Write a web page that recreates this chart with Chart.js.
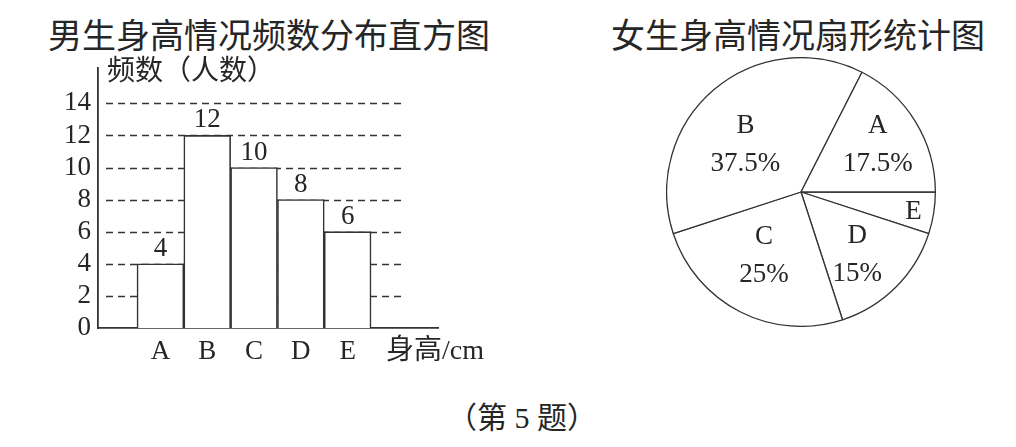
<!DOCTYPE html>
<html>
<head>
<meta charset="utf-8">
<script src="https://cdn.jsdelivr.net/npm/chart.js@4.4.1/dist/chart.umd.min.js"></script>
<style>
  html, body { margin:0; padding:0; background:#fff; }
  body { width:1016px; height:447px; position:relative; overflow:hidden;
         font-family:'Liberation Serif','Noto Sans CJK SC',serif; color:#262626; }
  .txt { position:absolute; white-space:nowrap; }
  #t1 { left:48px; top:17px; font-size:34px; line-height:40px; }
  #t2 { left:611px; top:17px; font-size:34px; line-height:40px; }
  #cap { left:422px; width:200px; text-align:center; top:400px; font-size:30px; line-height:36px; }
  #barBox { position:absolute; left:0; top:0; width:520px; height:380px; }
  #pieBox { position:absolute; left:666px; top:57px; width:270px; height:270px; }
</style>
</head>
<body>
<div class="txt" id="t1">男生身高情况频数分布直方图</div>
<div class="txt" id="t2">女生身高情况扇形统计图</div>
<div class="txt" id="cap">（第 5 题）</div>
<div id="barBox"><canvas id="bar"></canvas></div>
<div id="pieBox"><canvas id="pie"></canvas></div>
<script>
// ---- data ----
const categories = ['A', 'B', 'C', 'D', 'E'];
const boysCount = [4, 12, 10, 8, 6];
const girlsPercent = [17.5, 37.5, 25, 15, 5];
const yTickValues = [0, 2, 4, 6, 8, 10, 12, 14];
const yAxisTitle = '频数（人数）';
const xAxisTitle = '身高/cm';

const FONT = "'Liberation Serif','Noto Sans CJK SC',serif";
const INK = '#262626';
const LINE = '#333';

// ---- bar chart (histogram) ----
const barPoints = categories.map((c, i) => ({ x: i + 1, y: boysCount[i] }));

const barDecor = {
  id: 'barDecor',
  beforeDatasetsDraw(chart) {
    const { ctx, chartArea, scales } = chart;
    ctx.save();
    ctx.strokeStyle = LINE;
    ctx.lineWidth = 1.3;
    ctx.setLineDash([7, 5]);
    yTickValues.forEach(v => {
      if (v === 0) return;
      const y = Math.round(scales.y.getPixelForValue(v)) + 0.5;
      ctx.beginPath();
      ctx.moveTo(chartArea.left + 8, y);
      ctx.lineTo(chartArea.right - 36, y);
      ctx.stroke();
    });
    ctx.restore();
  },
  afterDatasetsDraw(chart) {
    const { ctx, chartArea } = chart;
    const meta = chart.getDatasetMeta(0);
    ctx.save();
    ctx.fillStyle = INK;
    ctx.font = '27px ' + FONT;
    ctx.textAlign = 'center';
    ctx.textBaseline = 'alphabetic';
    meta.data.forEach((bar, i) => {
      ctx.fillText(String(boysCount[i]), bar.x, bar.y - 8);
    });
    ctx.textAlign = 'left';
    ctx.textBaseline = 'middle';
    ctx.font = '28px ' + FONT;
    ctx.fillText(yAxisTitle, chartArea.left + 9, chartArea.top + 5);
    ctx.fillText(xAxisTitle, chartArea.right - 52, chartArea.bottom + 24);
    ctx.restore();
  }
};

new Chart(document.getElementById('bar'), {
  type: 'bar',
  data: {
    datasets: [{
      data: barPoints,
      backgroundColor: '#ffffff',
      borderColor: LINE,
      borderWidth: 1.6,
      barPercentage: 1,
      categoryPercentage: 1
    }]
  },
  options: {
    responsive: true,
    maintainAspectRatio: false,
    animation: false,
    layout: { padding: { left: 0, right: 82, top: 68, bottom: 0 } },
    plugins: { legend: { display: false }, tooltip: { enabled: false } },
    scales: {
      x: {
        type: 'linear',
        offset: false,
        min: -0.333,
        max: 6.93,
        grid: { display: false, drawTicks: false, offset: false },
        border: { display: true, color: LINE, width: 1.8 },
        afterBuildTicks(scale) { scale.ticks = categories.map((c, i) => ({ value: i + 1 })); },
        afterFit(scale) { scale.height = 52; },
        ticks: {
          autoSkip: false,
          maxRotation: 0,
          padding: 8,
          color: INK,
          font: { family: FONT, size: 27 },
          callback: (v) => categories[Math.round(v) - 1] || ''
        }
      },
      y: {
        type: 'linear',
        min: 0,
        max: 16.2,
        grid: { display: false, drawTicks: false },
        border: { display: true, color: LINE, width: 1.8 },
        afterBuildTicks(scale) { scale.ticks = yTickValues.map(v => ({ value: v })); },
        afterFit(scale) { scale.width = 98; },
        ticks: {
          padding: 7,
          color: INK,
          font: { family: FONT, size: 27 }
        }
      }
    }
  },
  plugins: [barDecor]
});

// ---- pie chart ----
// Chart.js draws clockwise; the reference runs A,B,C,D,E counter-clockwise from 3 o'clock.
const pieLabels = categories.slice().reverse();
const pieValues = girlsPercent.slice().reverse();
const labelPlacement = {
  A: { r: 0.67, da: 0 },
  B: { r: 0.54, da: -9.5 },
  C: { r: 0.55, da: 3 },
  D: { r: 0.63, da: 3.4 },
  E: { r: 0.85, da: 1, nameOnly: true }
};

const pieText = {
  id: 'pieText',
  afterDatasetsDraw(chart) {
    const { ctx } = chart;
    const meta = chart.getDatasetMeta(0);
    ctx.save();
    ctx.fillStyle = INK;
    ctx.font = '27px ' + FONT;
    ctx.textAlign = 'center';
    ctx.textBaseline = 'middle';
    meta.data.forEach((arc, i) => {
      const name = pieLabels[i];
      const p = labelPlacement[name];
      const a = (arc.startAngle + arc.endAngle) / 2 + p.da * Math.PI / 180;
      const r = arc.outerRadius * p.r;
      const cx = arc.x + Math.cos(a) * r;
      const cy = arc.y + Math.sin(a) * r;
      if (p.nameOnly) {
        ctx.fillText(name, cx, cy);
      } else {
        ctx.fillText(name, cx, cy - 19);
        ctx.fillText(pieValues[i] + '%', cx, cy + 19);
      }
    });
    ctx.restore();
  }
};

new Chart(document.getElementById('pie'), {
  type: 'pie',
  data: {
    labels: pieLabels,
    datasets: [{
      data: pieValues,
      backgroundColor: '#ffffff',
      borderColor: LINE,
      borderWidth: 1.3
    }]
  },
  options: {
    responsive: true,
    maintainAspectRatio: false,
    animation: false,
    rotation: 90,
    layout: { padding: 0 },
    plugins: { legend: { display: false }, tooltip: { enabled: false } }
  },
  plugins: [pieText]
});
</script>
</body>
</html>
